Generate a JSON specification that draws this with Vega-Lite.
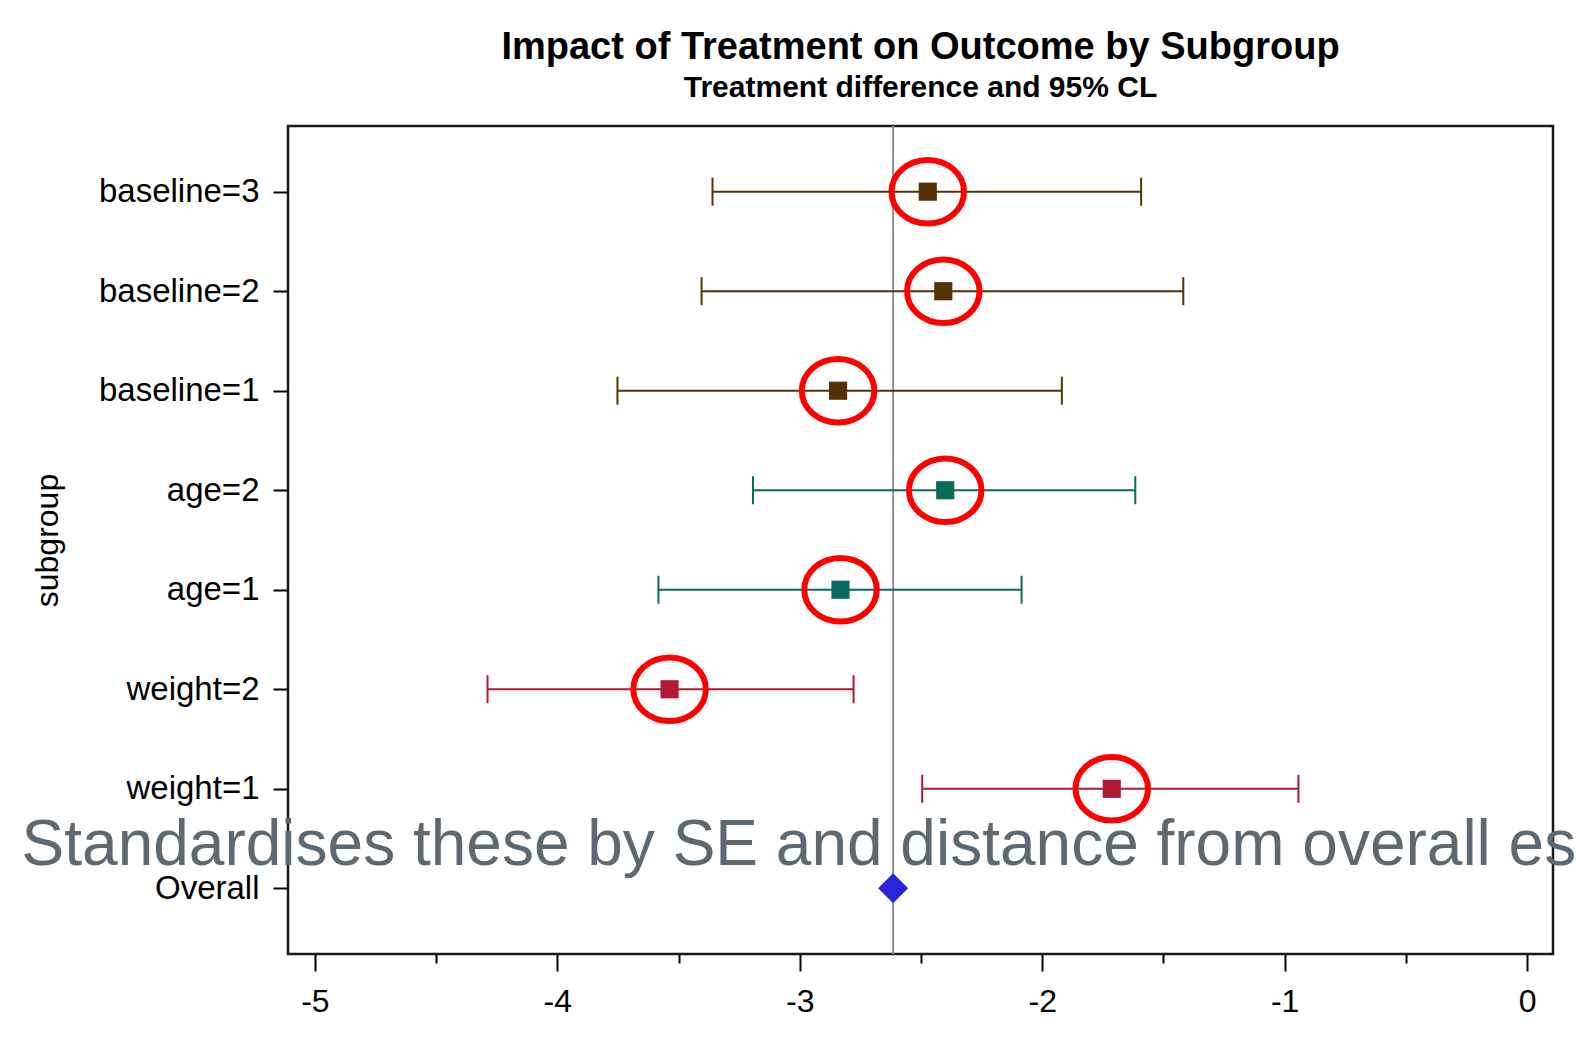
{
  "$schema": "https://vega.github.io/schema/vega-lite/v6.json",
  "autosize": {"type": "none"},
  "width": 1265,
  "height": 828,
  "padding": {"left": 288, "top": 126, "right": 23, "bottom": 90},
  "background": "white",
  "title": {
    "text": "Impact of Treatment on Outcome by Subgroup",
    "subtitle": "Treatment difference and 95% CL",
    "anchor": "middle",
    "frame": "group",
    "font": "Liberation Sans",
    "fontSize": 38,
    "fontWeight": "bold",
    "color": "black",
    "subtitleFont": "Liberation Sans",
    "subtitleFontSize": 30,
    "subtitleFontWeight": "bold",
    "subtitleColor": "black",
    "subtitlePadding": 6,
    "offset": 22
  },
  "datasets": {
    "forest": [
      {"subgroup": "baseline=3", "group": "baseline", "est": -2.472, "low": -3.360, "high": -1.592, "flag": true},
      {"subgroup": "baseline=2", "group": "baseline", "est": -2.408, "low": -3.405, "high": -1.418, "flag": true},
      {"subgroup": "baseline=1", "group": "baseline", "est": -2.842, "low": -3.752, "high": -1.919, "flag": true},
      {"subgroup": "age=2", "group": "age", "est": -2.400, "low": -3.193, "high": -1.616, "flag": true},
      {"subgroup": "age=1", "group": "age", "est": -2.832, "low": -3.583, "high": -2.085, "flag": true},
      {"subgroup": "weight=2", "group": "weight", "est": -3.537, "low": -4.288, "high": -2.778, "flag": true},
      {"subgroup": "weight=1", "group": "weight", "est": -1.713, "low": -2.495, "high": -0.943, "flag": true},
      {"subgroup": "Overall", "group": "overall", "est": -2.615, "low": null, "high": null, "flag": false}
    ],
    "note": [
      {"subgroup": "Overall", "pos": -6.21, "note": "Standardises these by SE and distance from overall estimate"}
    ]
  },
  "data": {"name": "forest"},
  "layer": [
    {
      "transform": [{"filter": "datum.subgroup === 'Overall'"}],
      "mark": {"type": "rule", "color": "#8f8f8f", "strokeWidth": 2},
      "encoding": {
        "x": {
          "field": "est", "type": "quantitative",
          "scale": {"domain": [-5.111, 0.107], "nice": false, "zero": false},
          "axis": {
            "title": null,
            "values": [-5, -4.5, -4, -3.5, -3, -2.5, -2, -1.5, -1, -0.5, 0],
            "labelExpr": "datum.value % 1 === 0 ? '' + datum.value : ''",
            "tickSize": {"condition": {"test": "datum.value % 1 !== 0", "value": 9}, "value": 17},
            "tickColor": "black",
            "tickWidth": 2,
            "labelFont": "Liberation Sans",
            "labelFontSize": 32,
            "labelColor": "black",
            "labelPadding": 15,
            "labelOverlap": false,
            "labelFlush": false,
            "domain": false,
            "grid": false
          }
        }
      }
    },
    {
      "transform": [{"filter": "datum.low != null"}],
      "mark": {"type": "rule", "strokeWidth": 2},
      "encoding": {
        "x": {"field": "low", "type": "quantitative"},
        "x2": {"field": "high"},
        "y": {
          "field": "subgroup", "type": "nominal",
          "scale": {"type": "point", "domain": ["baseline=3", "baseline=2", "baseline=1", "age=2", "age=1", "weight=2", "weight=1", "Overall"], "padding": 0.66},
          "axis": {
            "title": "subgroup",
            "labelFont": "Liberation Sans",
            "labelFontSize": 33,
            "labelColor": "black",
            "tickSize": 15,
            "tickColor": "black",
            "tickWidth": 2,
            "labelPadding": 14,
            "domain": false,
            "grid": false,
            "titleFont": "Liberation Sans",
            "titleFontSize": 32,
            "titleFontWeight": "normal",
            "titleColor": "black",
            "titlePadding": 34
          }
        },
        "color": {
          "field": "group", "type": "nominal",
          "scale": {"domain": ["baseline", "age", "weight", "overall"], "range": ["#553300", "#0a6a5e", "#b01a35", "#2b24d9"]}
        }
      }
    },
    {
      "transform": [{"filter": "datum.low != null"}],
      "mark": {"type": "tick", "thickness": 2, "size": 28, "opacity": 1},
      "encoding": {
        "x": {"field": "low", "type": "quantitative"},
        "y": {"field": "subgroup", "type": "nominal"},
        "color": {"field": "group", "type": "nominal"}
      }
    },
    {
      "transform": [{"filter": "datum.high != null"}],
      "mark": {"type": "tick", "thickness": 2, "size": 28, "opacity": 1},
      "encoding": {
        "x": {"field": "high", "type": "quantitative"},
        "y": {"field": "subgroup", "type": "nominal"},
        "color": {"field": "group", "type": "nominal"}
      }
    },
    {
      "transform": [{"filter": "datum.low != null"}],
      "mark": {"type": "point", "shape": "square", "filled": true, "size": 330, "opacity": 1},
      "encoding": {
        "x": {"field": "est", "type": "quantitative"},
        "y": {"field": "subgroup", "type": "nominal"},
        "color": {"field": "group", "type": "nominal"}
      }
    },
    {
      "transform": [{"filter": "datum.subgroup === 'Overall'"}],
      "mark": {"type": "point", "shape": "diamond", "filled": true, "size": 900, "opacity": 1},
      "encoding": {
        "x": {"field": "est", "type": "quantitative"},
        "y": {"field": "subgroup", "type": "nominal"},
        "color": {"field": "group", "type": "nominal"}
      }
    },
    {
      "transform": [{"filter": "datum.flag"}],
      "mark": {
        "type": "point",
        "shape": "M -1 0 A 1 0.876 0 1 0 1 0 A 1 0.876 0 1 0 -1 0 Z",
        "filled": false,
        "stroke": "#ff0000",
        "strokeWidth": 6,
        "size": 5256,
        "opacity": 1
      },
      "encoding": {
        "x": {"field": "est", "type": "quantitative"},
        "y": {"field": "subgroup", "type": "nominal"}
      }
    },
    {
      "data": {"name": "note"},
      "mark": {
        "type": "text",
        "align": "left",
        "baseline": "alphabetic",
        "dy": -23,
        "font": "Liberation Sans",
        "fontSize": 64,
        "color": "#5e6870"
      },
      "encoding": {
        "x": {"field": "pos", "type": "quantitative"},
        "y": {"field": "subgroup", "type": "nominal"},
        "text": {"field": "note"}
      }
    }
  ],
  "resolve": {"scale": {"x": "shared", "y": "shared", "color": "shared"}},
  "config": {
    "view": {"stroke": "#1a1a1a", "strokeWidth": 2.5},
    "legend": {"disable": true},
    "axis": {"labelOverlap": false}
  }
}
